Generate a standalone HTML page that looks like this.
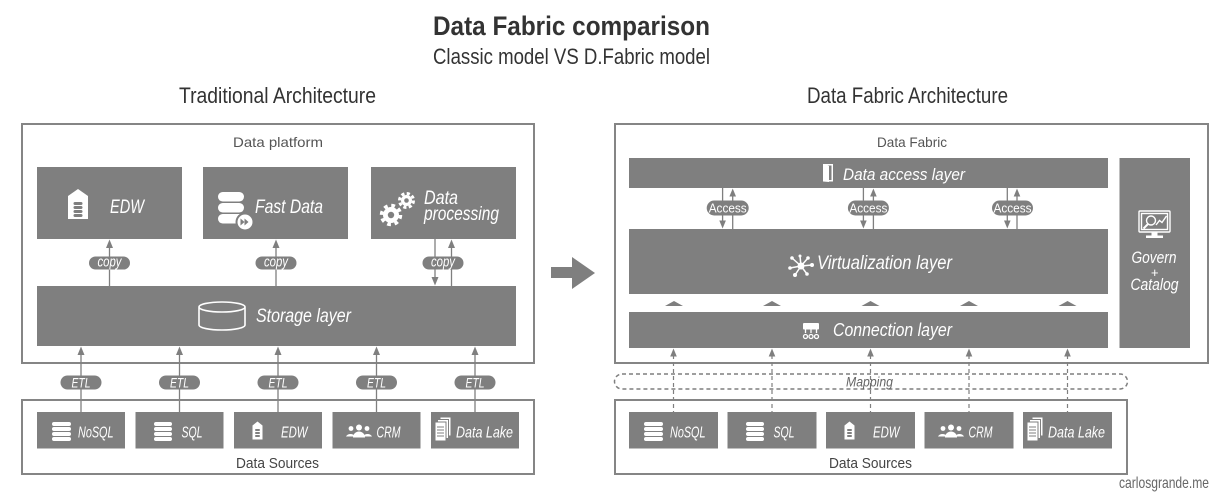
<!DOCTYPE html>
<html>
<head>
<meta charset="utf-8">
<style>
html,body{margin:0;padding:0;background:#fff;}
svg{display:block;}
</style>
</head>
<body>
<svg width="1230" height="497" viewBox="0 0 1230 497" xmlns="http://www.w3.org/2000/svg" font-family="'Liberation Sans', sans-serif">
<rect width="1230" height="497" fill="#fff"/>

<!-- Titles -->
<text x="433" y="35" font-size="27" font-weight="bold" fill="#333" textLength="277" lengthAdjust="spacingAndGlyphs">Data Fabric comparison</text>
<text x="433" y="64" font-size="22" fill="#333" textLength="277" lengthAdjust="spacingAndGlyphs">Classic model VS D.Fabric model</text>
<text x="179" y="103" font-size="22" fill="#333" textLength="197" lengthAdjust="spacingAndGlyphs">Traditional Architecture</text>
<text x="807" y="103" font-size="22" fill="#333" textLength="201" lengthAdjust="spacingAndGlyphs">Data Fabric Architecture</text>

<!-- ============ LEFT ============ -->
<rect x="22" y="124" width="512" height="239" fill="none" stroke="#858585" stroke-width="2"/>
<text x="233" y="147" font-size="14" fill="#555" textLength="90" lengthAdjust="spacingAndGlyphs">Data platform</text>

<g fill="#7f7f7f">
  <rect x="37" y="167" width="145" height="72"/>
  <rect x="203" y="167" width="145" height="72"/>
  <rect x="371" y="167" width="145" height="72"/>
  <rect x="37" y="286" width="479" height="60"/>
</g>

<!-- EDW icon -->
<polygon points="78,189 88,196 88,219 68,219 68,196" fill="#fff"/>
<g fill="#7f7f7f">
  <rect x="73.5" y="202" width="9" height="3" rx="1.5"/>
  <rect x="73.5" y="206" width="9" height="3" rx="1.5"/>
  <rect x="73.5" y="210" width="9" height="3" rx="1.5"/>
  <rect x="73.5" y="214" width="9" height="3" rx="1.5"/>
</g>
<!-- Fast data icon -->
<g fill="#fff">
  <rect x="218" y="192" width="26" height="9.5" rx="4.7"/>
  <rect x="218" y="203" width="26" height="9.5" rx="4.7"/>
  <rect x="218" y="214" width="26" height="9.5" rx="4.7"/>
</g>
<circle cx="245" cy="222" r="9.5" fill="#7f7f7f"/>
<circle cx="245" cy="222" r="7.5" fill="#fff"/>
<polygon points="240.5,218.5 244.5,222 240.5,225.5" fill="#7f7f7f"/>
<polygon points="244.5,218.5 248.5,222 244.5,225.5" fill="#7f7f7f"/>
<!-- Gears -->
<circle cx="391" cy="215" r="8" fill="#fff"/>
<circle cx="391" cy="215" r="9.5" fill="none" stroke="#fff" stroke-width="3.5" stroke-dasharray="3.73 3.73"/>
<circle cx="391" cy="215" r="3.2" fill="#7f7f7f"/>
<circle cx="406.5" cy="200.5" r="5.5" fill="#fff"/>
<circle cx="406.5" cy="200.5" r="7" fill="none" stroke="#fff" stroke-width="3" stroke-dasharray="3.14 2.36"/>
<circle cx="406.5" cy="200.5" r="2.3" fill="#7f7f7f"/>
<!-- Cylinder -->
<path d="M199,307 a23,5 0 0,0 46,0 a23,5 0 0,0 -46,0 M199,307 v18 a23,5 0 0,0 46,0 v-18" fill="none" stroke="#fff" stroke-width="1.6"/>

<g fill="#fff" font-style="italic" font-size="19">
  <text x="110" y="213" textLength="34" lengthAdjust="spacingAndGlyphs">EDW</text>
  <text x="255" y="213" textLength="68" lengthAdjust="spacingAndGlyphs">Fast Data</text>
  <text x="424" y="204" textLength="34" lengthAdjust="spacingAndGlyphs">Data</text>
  <text x="424" y="220" textLength="75" lengthAdjust="spacingAndGlyphs">processing</text>
  <text x="256" y="322" textLength="95" lengthAdjust="spacingAndGlyphs">Storage layer</text>
</g>

<!-- copy arrows -->
<g stroke="#7f7f7f" stroke-width="1.3">
  <line x1="109.5" y1="246" x2="109.5" y2="286"/>
  <line x1="276" y1="246" x2="276" y2="286"/>
  <line x1="435" y1="239" x2="435" y2="279"/>
  <line x1="451.5" y1="246" x2="451.5" y2="286"/>
</g>
<g fill="#7f7f7f">
  <polygon points="109.5,239.5 106,248 113,248"/>
  <polygon points="276,239.5 272.5,248 279.5,248"/>
  <polygon points="435,285.5 431.5,277 438.5,277"/>
  <polygon points="451.5,239.5 448,248 455,248"/>
  <rect x="89" y="256.5" width="41" height="13" rx="6.5"/>
  <rect x="255.5" y="256.5" width="41" height="13" rx="6.5"/>
  <rect x="422.5" y="256.5" width="41" height="13" rx="6.5"/>
</g>
<g fill="#fff" font-style="italic" font-size="14.5" text-anchor="middle">
  <text x="109.5" y="266.5" textLength="24" lengthAdjust="spacingAndGlyphs">copy</text>
  <text x="276" y="266.5" textLength="24" lengthAdjust="spacingAndGlyphs">copy</text>
  <text x="443" y="266.5" textLength="24" lengthAdjust="spacingAndGlyphs">copy</text>
</g>

<!-- ETL arrows -->
<g stroke="#7f7f7f" stroke-width="1.3">
  <line x1="81" y1="353" x2="81" y2="413"/>
  <line x1="179.5" y1="353" x2="179.5" y2="413"/>
  <line x1="278" y1="353" x2="278" y2="413"/>
  <line x1="376.5" y1="353" x2="376.5" y2="413"/>
  <line x1="475" y1="353" x2="475" y2="413"/>
</g>
<g fill="#7f7f7f">
  <polygon points="81,346.5 77.5,355 84.5,355"/>
  <polygon points="179.5,346.5 176,355 183,355"/>
  <polygon points="278,346.5 274.5,355 281.5,355"/>
  <polygon points="376.5,346.5 373,355 380,355"/>
  <polygon points="475,346.5 471.5,355 478.5,355"/>
  <rect x="60.5" y="375.5" width="41" height="14" rx="7"/>
  <rect x="159" y="375.5" width="41" height="14" rx="7"/>
  <rect x="257.5" y="375.5" width="41" height="14" rx="7"/>
  <rect x="356" y="375.5" width="41" height="14" rx="7"/>
  <rect x="454.5" y="375.5" width="41" height="14" rx="7"/>
</g>
<g fill="#fff" font-style="italic" font-size="14" text-anchor="middle">
  <text x="81" y="387.5" textLength="19" lengthAdjust="spacingAndGlyphs">ETL</text>
  <text x="179.5" y="387.5" textLength="19" lengthAdjust="spacingAndGlyphs">ETL</text>
  <text x="278" y="387.5" textLength="19" lengthAdjust="spacingAndGlyphs">ETL</text>
  <text x="376.5" y="387.5" textLength="19" lengthAdjust="spacingAndGlyphs">ETL</text>
  <text x="475" y="387.5" textLength="19" lengthAdjust="spacingAndGlyphs">ETL</text>
</g>

<!-- Left Data Sources -->
<rect x="22" y="400" width="512" height="74" fill="none" stroke="#858585" stroke-width="2"/>
<g fill="#7f7f7f">
  <rect x="37" y="412" width="88" height="36.5"/>
  <rect x="135.5" y="412" width="88" height="36.5"/>
  <rect x="234" y="412" width="88" height="36.5"/>
  <rect x="332.5" y="412" width="88" height="36.5"/>
  <rect x="431" y="412" width="88" height="36.5"/>
</g>
<text x="236" y="468" font-size="15" fill="#444" textLength="83" lengthAdjust="spacingAndGlyphs">Data Sources</text>

<!-- ============ BIG ARROW ============ -->
<rect x="551" y="267" width="22" height="11" fill="#7f7f7f"/>
<polygon points="572,257 595,273 572,289" fill="#7f7f7f"/>

<!-- ============ RIGHT ============ -->
<rect x="615" y="124" width="593" height="239" fill="none" stroke="#858585" stroke-width="2"/>
<text x="877" y="147" font-size="14" fill="#555" textLength="70" lengthAdjust="spacingAndGlyphs">Data Fabric</text>

<g fill="#7f7f7f">
  <rect x="629" y="158" width="479" height="30"/>
  <rect x="629" y="229" width="479" height="65"/>
  <rect x="629" y="312" width="479" height="36"/>
  <rect x="1119.5" y="158" width="70.5" height="190"/>
</g>

<!-- door icon -->
<rect x="823.75" y="164.75" width="8.5" height="16" fill="none" stroke="#fff" stroke-width="1.5"/>
<polygon points="823,164 829,166 829,182 823,181.5" fill="#fff"/>
<!-- virtualization icon -->
<g stroke="#fff" stroke-width="1.5">
  <line x1="801" y1="266" x2="792" y2="258"/>
  <line x1="801" y1="266" x2="808" y2="258"/>
  <line x1="801" y1="266" x2="812" y2="265"/>
  <line x1="801" y1="266" x2="807" y2="274"/>
  <line x1="801" y1="266" x2="795" y2="275"/>
  <line x1="801" y1="266" x2="790" y2="268"/>
  <line x1="801" y1="266" x2="800" y2="256"/>
</g>
<g fill="#fff">
  <circle cx="801" cy="266" r="3.5"/>
  <circle cx="792" cy="258" r="1.8"/>
  <circle cx="808" cy="258" r="1.8"/>
  <circle cx="812" cy="265" r="2"/>
  <circle cx="807" cy="274" r="1.8"/>
  <circle cx="795" cy="275" r="2"/>
  <circle cx="790" cy="268" r="1.8"/>
  <circle cx="800" cy="256" r="1.5"/>
</g>
<!-- connection icon -->
<rect x="803" y="323" width="16" height="6.5" rx="1" fill="#fff"/>
<g stroke="#fff" stroke-width="1.3" fill="none">
  <line x1="805.5" y1="329" x2="805.5" y2="333"/>
  <line x1="811" y1="329" x2="811" y2="333"/>
  <line x1="816.5" y1="329" x2="816.5" y2="333"/>
  <circle cx="805.5" cy="336.5" r="2"/>
  <circle cx="811" cy="336.5" r="2"/>
  <circle cx="816.5" cy="336.5" r="2"/>
</g>
<!-- monitor icon -->
<g stroke="#fff" fill="none" stroke-width="1.4">
  <rect x="1139" y="211" width="31" height="21" rx="1"/>
  <rect x="1141.5" y="213.5" width="26" height="16"/>
  <circle cx="1151" cy="220.5" r="4.5"/>
  <line x1="1148" y1="224" x2="1143.5" y2="228.5" stroke-width="2"/>
  <polyline points="1156,225 1159.5,220.5 1162,222.5 1166.5,216"/>
</g>
<rect x="1151.5" y="232" width="6" height="3.5" fill="#fff"/>
<rect x="1146" y="235.5" width="17" height="2.5" fill="#fff"/>

<g fill="#fff" font-style="italic">
  <text x="843" y="180" font-size="17" textLength="122" lengthAdjust="spacingAndGlyphs">Data access layer</text>
  <text x="817" y="269" font-size="19" textLength="135" lengthAdjust="spacingAndGlyphs">Virtualization layer</text>
  <text x="833" y="336" font-size="18" textLength="119" lengthAdjust="spacingAndGlyphs">Connection layer</text>
  <text x="1131.5" y="263" font-size="17" textLength="45" lengthAdjust="spacingAndGlyphs">Govern</text>
  <text x="1154.5" y="277" font-size="13" text-anchor="middle">+</text>
  <text x="1130.5" y="290" font-size="17" textLength="48" lengthAdjust="spacingAndGlyphs">Catalog</text>
</g>

<!-- Access arrows -->
<g stroke="#7f7f7f" stroke-width="1.3">
  <line x1="722.6" y1="188" x2="722.6" y2="222"/>
  <line x1="732.7" y1="195" x2="732.7" y2="229"/>
  <line x1="863.4" y1="188" x2="863.4" y2="222"/>
  <line x1="873.4" y1="195" x2="873.4" y2="229"/>
  <line x1="1007.3" y1="188" x2="1007.3" y2="222"/>
  <line x1="1017" y1="195" x2="1017" y2="229"/>
</g>
<g fill="#7f7f7f">
  <polygon points="722.6,228.5 719.3,220.5 725.9,220.5"/>
  <polygon points="732.7,188.5 729.4,196.5 736,196.5"/>
  <polygon points="863.4,228.5 860.1,220.5 866.7,220.5"/>
  <polygon points="873.4,188.5 870.1,196.5 876.7,196.5"/>
  <polygon points="1007.3,228.5 1004,220.5 1010.6,220.5"/>
  <polygon points="1017,188.5 1013.7,196.5 1020.3,196.5"/>
  <rect x="706.7" y="200.5" width="42" height="15" rx="7.5"/>
  <rect x="847.9" y="200.5" width="41" height="15" rx="7.5"/>
  <rect x="992" y="200.5" width="41" height="15" rx="7.5"/>
</g>
<g fill="#fff" font-size="13" text-anchor="middle">
  <text x="727.7" y="212.5" textLength="38" lengthAdjust="spacingAndGlyphs">Access</text>
  <text x="868.4" y="212.5" textLength="38" lengthAdjust="spacingAndGlyphs">Access</text>
  <text x="1012.5" y="212.5" textLength="38" lengthAdjust="spacingAndGlyphs">Access</text>
</g>

<!-- small triangles between virtualization and connection -->
<g fill="#7f7f7f">
  <polygon points="665,306 674,301 683,306"/>
  <polygon points="763,306 772,301 781,306"/>
  <polygon points="861.5,306 870.5,301 879.5,306"/>
  <polygon points="960,306 969,301 978,306"/>
  <polygon points="1058.5,306 1067.5,301 1076.5,306"/>
</g>

<!-- dashed source arrows -->
<g stroke="#7f7f7f" stroke-width="1.2" stroke-dasharray="4 3">
  <line x1="673.5" y1="355" x2="673.5" y2="412"/>
  <line x1="772" y1="355" x2="772" y2="412"/>
  <line x1="870.5" y1="355" x2="870.5" y2="412"/>
  <line x1="969" y1="355" x2="969" y2="412"/>
  <line x1="1067.5" y1="355" x2="1067.5" y2="412"/>
</g>
<g fill="#7f7f7f">
  <polygon points="673.5,348.5 670.2,356.5 676.8,356.5"/>
  <polygon points="772,348.5 768.7,356.5 775.3,356.5"/>
  <polygon points="870.5,348.5 867.2,356.5 873.8,356.5"/>
  <polygon points="969,348.5 965.7,356.5 972.3,356.5"/>
  <polygon points="1067.5,348.5 1064.2,356.5 1070.8,356.5"/>
</g>

<!-- Mapping -->
<rect x="614.5" y="374" width="513" height="15" rx="7.5" fill="none" stroke="#7f7f7f" stroke-width="1.5" stroke-dasharray="4 3"/>
<text x="846" y="386.5" font-size="14" font-style="italic" fill="#666" textLength="47" lengthAdjust="spacingAndGlyphs">Mapping</text>

<!-- Right Data Sources -->
<rect x="615" y="400" width="512" height="74" fill="none" stroke="#858585" stroke-width="2"/>
<g fill="#7f7f7f">
  <rect x="629" y="412" width="89" height="36.5"/>
  <rect x="727.5" y="412" width="89" height="36.5"/>
  <rect x="826" y="412" width="89" height="36.5"/>
  <rect x="924.5" y="412" width="89" height="36.5"/>
  <rect x="1023" y="412" width="89" height="36.5"/>
</g>
<text x="829" y="468" font-size="15" fill="#444" textLength="83" lengthAdjust="spacingAndGlyphs">Data Sources</text>

<!-- ===== Source icons (left & right) ===== -->
<g fill="#fff">
  <rect x="52" y="422" width="19" height="4" rx="2"/><rect x="52" y="427" width="19" height="4" rx="2"/><rect x="52" y="432" width="19" height="4" rx="2"/><rect x="52" y="437" width="19" height="4" rx="2"/>
  <rect x="644" y="422" width="19" height="4" rx="2"/><rect x="644" y="427" width="19" height="4" rx="2"/><rect x="644" y="432" width="19" height="4" rx="2"/><rect x="644" y="437" width="19" height="4" rx="2"/>
  <rect x="154" y="422" width="18" height="4" rx="2"/><rect x="154" y="427" width="18" height="4" rx="2"/><rect x="154" y="432" width="18" height="4" rx="2"/><rect x="154" y="437" width="18" height="4" rx="2"/>
  <rect x="746" y="422" width="18" height="4" rx="2"/><rect x="746" y="427" width="18" height="4" rx="2"/><rect x="746" y="432" width="18" height="4" rx="2"/><rect x="746" y="437" width="18" height="4" rx="2"/>
  <polygon points="257.5,421.5 262.5,425.5 262.5,439.5 252.5,439.5 252.5,425.5"/>
  <polygon points="849.5,421.5 854.5,425.5 854.5,439.5 844.5,439.5 844.5,425.5"/>
  <circle cx="359" cy="427.5" r="3"/><circle cx="351" cy="428.5" r="2.4"/><circle cx="367" cy="428.5" r="2.4"/>
  <path d="M353,437.5 a6,6 0 0,1 12,0 z"/><path d="M346,436.5 a5,4.5 0 0,1 9,0 z"/><path d="M363,436.5 a5,4.5 0 0,1 9,0 z"/>
  <circle cx="951" cy="427.5" r="3"/><circle cx="943" cy="428.5" r="2.4"/><circle cx="959" cy="428.5" r="2.4"/>
  <path d="M945,437.5 a6,6 0 0,1 12,0 z"/><path d="M938,436.5 a5,4.5 0 0,1 9,0 z"/><path d="M955,436.5 a5,4.5 0 0,1 9,0 z"/>
</g>
<g fill="#7f7f7f">
  <rect x="255" y="429" width="5" height="2" rx="1"/><rect x="255" y="432" width="5" height="2" rx="1"/><rect x="255" y="435" width="5" height="2" rx="1"/>
  <rect x="847" y="429" width="5" height="2" rx="1"/><rect x="847" y="432" width="5" height="2" rx="1"/><rect x="847" y="435" width="5" height="2" rx="1"/>
</g>
<g fill="#fff" stroke="#7f7f7f" stroke-width="1">
  <rect x="440" y="417" width="11" height="19"/>
  <rect x="437.5" y="419.5" width="11" height="19"/>
  <rect x="435" y="422" width="11" height="19"/>
  <rect x="1032" y="417" width="11" height="19"/>
  <rect x="1029.5" y="419.5" width="11" height="19"/>
  <rect x="1027" y="422" width="11" height="19"/>
</g>
<g stroke="#7f7f7f" stroke-width="1">
  <line x1="437" y1="427" x2="444" y2="427"/><line x1="437" y1="430" x2="444" y2="430"/><line x1="437" y1="433" x2="444" y2="433"/><line x1="437" y1="436" x2="444" y2="436"/>
  <line x1="1029" y1="427" x2="1036" y2="427"/><line x1="1029" y1="430" x2="1036" y2="430"/><line x1="1029" y1="433" x2="1036" y2="433"/><line x1="1029" y1="436" x2="1036" y2="436"/>
</g>

<g fill="#fff" font-style="italic" font-size="16">
  <text x="78" y="437.5" textLength="35.5" lengthAdjust="spacingAndGlyphs">NoSQL</text>
  <text x="181.5" y="437.5" textLength="21" lengthAdjust="spacingAndGlyphs">SQL</text>
  <text x="281" y="437.5" textLength="26.5" lengthAdjust="spacingAndGlyphs">EDW</text>
  <text x="376.5" y="437.5" textLength="24" lengthAdjust="spacingAndGlyphs">CRM</text>
  <text x="456" y="437.5" textLength="57" lengthAdjust="spacingAndGlyphs">Data Lake</text>
  <text x="670" y="437.5" textLength="35.5" lengthAdjust="spacingAndGlyphs">NoSQL</text>
  <text x="773.5" y="437.5" textLength="21" lengthAdjust="spacingAndGlyphs">SQL</text>
  <text x="873" y="437.5" textLength="26.5" lengthAdjust="spacingAndGlyphs">EDW</text>
  <text x="968.5" y="437.5" textLength="24" lengthAdjust="spacingAndGlyphs">CRM</text>
  <text x="1048" y="437.5" textLength="57" lengthAdjust="spacingAndGlyphs">Data Lake</text>
</g>

<!-- watermark -->
<text x="1119" y="488" font-size="16" fill="#666" textLength="90" lengthAdjust="spacingAndGlyphs">carlosgrande.me</text>
</svg>
</body>
</html>
